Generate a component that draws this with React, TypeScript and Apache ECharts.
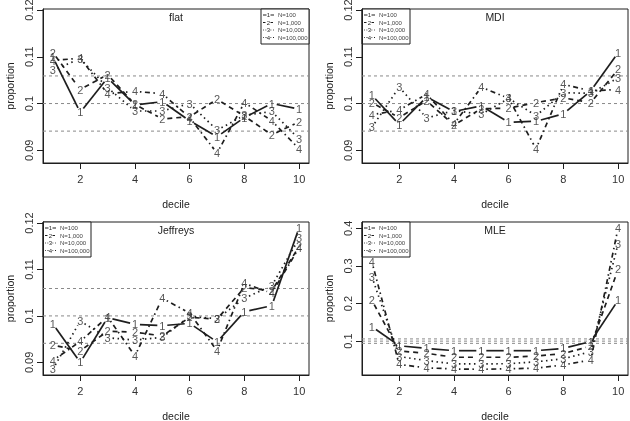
import React, { useEffect, useRef } from "react";
import * as echarts from "echarts";

// ---- data -------------------------------------------------------------
const deciles = [1, 2, 3, 4, 5, 6, 7, 8, 9, 10];
const xTickValues = [2, 4, 6, 8, 10];
const sampleSizeLabels = ["N=100", "N=1,000", "N=10,000", "N=100,000"];
const propTicks = [0.09, 0.1, 0.11, 0.12];
const mleTicks = [0.1, 0.2, 0.3, 0.4];

// expected proportion per decile and its band
const bandValues = [0.0941, 0.1, 0.1059];

const flatN100 = [0.1099, 0.0981, 0.1055, 0.0997, 0.1004, 0.0963, 0.0929, 0.097, 0.1, 0.0988];
const flatN1000 = [0.1109, 0.103, 0.1062, 0.0998, 0.0967, 0.0972, 0.1009, 0.0973, 0.0933, 0.0961];
const flatN10000 = [0.1071, 0.1096, 0.1034, 0.0984, 0.0984, 0.1, 0.0943, 0.0975, 0.0983, 0.0924];
const flatN100000 = [0.1092, 0.1097, 0.1021, 0.1026, 0.1021, 0.097, 0.0894, 0.1002, 0.0963, 0.0903];

const mdiN100 = [0.1018, 0.0955, 0.1014, 0.0983, 0.0995, 0.096, 0.0962, 0.0978, 0.1027, 0.1109];
const mdiN1000 = [0.1002, 0.097, 0.1006, 0.0954, 0.0989, 0.099, 0.1002, 0.1012, 0.1002, 0.1073];
const mdiN10000 = [0.0949, 0.1035, 0.0969, 0.0985, 0.0977, 0.1011, 0.0974, 0.1023, 0.1022, 0.1055];
const mdiN100000 = [0.0976, 0.0986, 0.102, 0.0956, 0.1035, 0.1011, 0.0903, 0.1041, 0.1027, 0.103];

const jeffreysN100 = [0.0983, 0.09, 0.0996, 0.0982, 0.0979, 0.0984, 0.0944, 0.1009, 0.1022, 0.119];
const jeffreysN1000 = [0.0937, 0.0925, 0.0967, 0.0965, 0.0957, 0.0997, 0.0993, 0.1061, 0.1054, 0.115];
const jeffreysN10000 = [0.0885, 0.0989, 0.0953, 0.0948, 0.0954, 0.0999, 0.0994, 0.1038, 0.1065, 0.1167];
const jeffreysN100000 = [0.0904, 0.0945, 0.0998, 0.0914, 0.1038, 0.1006, 0.0925, 0.107, 0.1049, 0.1147];

const mleN100 = [0.1386, 0.0876, 0.0807, 0.0746, 0.0746, 0.0746, 0.0746, 0.0807, 0.099, 0.2088];
const mleN1000 = [0.2088, 0.074, 0.0676, 0.0571, 0.0571, 0.0571, 0.0605, 0.067, 0.0868, 0.2912];
const mleN10000 = [0.2719, 0.059, 0.0482, 0.0395, 0.0395, 0.04, 0.045, 0.053, 0.0719, 0.3596];
const mleN100000 = [0.3114, 0.038, 0.0289, 0.026, 0.025, 0.0265, 0.028, 0.0368, 0.05, 0.4018];

// ---- styling ----------------------------------------------------------
const INK = "#1e1e1e";
const DIGIT = "#2e2e2e";
const FONT = "'Liberation Sans', Arial, Helvetica, sans-serif";
const DASHES: (number[] | null)[] = [null, [5, 4], [1.5, 3.5], [1.5, 3.5, 5, 3.5]];
const GAP = 5;

type Box = { left: number; top: number; width: number; height: number };

const panels = [
  { title: "flat", series: [flatN100, flatN1000, flatN10000, flatN100000], ticks: propTicks, box: { left: 43, top: 9, width: 266, height: 154 }, legendRight: true },
  { title: "MDI", series: [mdiN100, mdiN1000, mdiN10000, mdiN100000], ticks: propTicks, box: { left: 362, top: 9, width: 266, height: 154 }, legendRight: false },
  { title: "Jeffreys", series: [jeffreysN100, jeffreysN1000, jeffreysN10000, jeffreysN100000], ticks: propTicks, box: { left: 43, top: 222, width: 266, height: 153 }, legendRight: false },
  { title: "MLE", series: [mleN100, mleN1000, mleN10000, mleN100000], ticks: mleTicks, box: { left: 362, top: 222, width: 266, height: 153 }, legendRight: false },
];

// R-style axis range: data range widened by 4% on each side
function paddedRange(values: number[]): [number, number] {
  const lo = Math.min(...values);
  const hi = Math.max(...values);
  const pad = (hi - lo) * 0.04;
  return [lo - pad, hi + pad];
}

const sharedRange = paddedRange(panels.slice(0, 3).flatMap((p) => p.series.flat()));
const mleRange = paddedRange(panels[3].series.flat());
const xRange = paddedRange(deciles);

function legendGraphic(box: Box, right: boolean) {
  const w = 48;
  const h = 35;
  const x0 = right ? box.left + box.width - w : box.left;
  const y0 = box.top;
  const children: any[] = [
    { type: "rect", shape: { x: x0, y: y0, width: w, height: h }, style: { fill: "#fff", stroke: INK, lineWidth: 1 } },
  ];
  sampleSizeLabels.forEach((label, i) => {
    const cy = y0 + 6 + i * 7.5;
    const dash = DASHES[i];
    const small = dash ? dash.map((d) => d * 0.5) : null;
    children.push(
      { type: "line", shape: { x1: x0 + 2, y1: cy, x2: x0 + 5.5, y2: cy }, style: { stroke: INK, lineWidth: 1, lineDash: small } },
      { type: "line", shape: { x1: x0 + 9.5, y1: cy, x2: x0 + 13, y2: cy }, style: { stroke: INK, lineWidth: 1, lineDash: small } },
      { type: "text", x: x0 + 7.5, y: cy, style: { text: String(i + 1), fontSize: 6, fontFamily: FONT, fill: INK, align: "center", verticalAlign: "middle" } },
      { type: "text", x: x0 + 17, y: cy, style: { text: label, fontSize: 6, fontFamily: FONT, fill: "#444", align: "left", verticalAlign: "middle" } }
    );
  });
  return { type: "group", children };
}

function buildOption() {
  const grid: any[] = [];
  const xAxis: any[] = [];
  const yAxis: any[] = [];
  const series: any[] = [];
  const graphic: any[] = [];

  panels.forEach((p, gi) => {
    const b = p.box;
    grid.push({ ...b, show: true, borderColor: INK, borderWidth: 1, backgroundColor: "transparent", outerBoundsMode: "none", containLabel: false });
    xAxis.push({
      type: "value",
      gridIndex: gi,
      min: xRange[0],
      max: xRange[1],
      splitLine: { show: false },
      axisLine: { show: true, onZero: false, lineStyle: { color: INK, width: 1 } },
      axisTick: { show: true, inside: false, length: 6, customValues: xTickValues, lineStyle: { color: INK } },
      axisLabel: { show: true, customValues: xTickValues, margin: 10, fontSize: 11, fontFamily: FONT, color: "#333", formatter: (v: number) => String(v) },
    });
    const range = gi === 3 ? mleRange : sharedRange;
    yAxis.push({
      type: "value",
      gridIndex: gi,
      min: range[0],
      max: range[1],
      splitLine: { show: false },
      axisLine: { show: true, onZero: false, lineStyle: { color: INK, width: 1 } },
      axisTick: { show: true, inside: false, length: 6, customValues: p.ticks, lineStyle: { color: INK } },
      axisLabel: { show: true, customValues: p.ticks, rotate: 90, margin: 9, fontSize: 11, fontFamily: FONT, color: "#333", formatter: (v: number) => String(v) },
    });

    // reference band lines
    series.push({
      type: "custom",
      xAxisIndex: gi,
      yAxisIndex: gi,
      silent: true,
      z: 1,
      data: bandValues.map((v) => [xRange[0], v]),
      encode: { x: 0, y: 1 },
      renderItem: (params: any, api: any) => {
        const cs = params.coordSys;
        const y = api.coord([xRange[0], api.value(1)])[1];
        return {
          type: "line",
          shape: { x1: cs.x, y1: y, x2: cs.x + cs.width, y2: y },
          style: { stroke: "#8a8a8a", fill: null, lineWidth: 1, lineDash: [3, 3] },
        };
      },
    });

    p.series.forEach((values, si) => {
      const segments = deciles.slice(0, -1).map((d, i) => [d, values[i], deciles[i + 1], values[i + 1]]);
      const dash = DASHES[si];
      series.push({
        type: "custom",
        xAxisIndex: gi,
        yAxisIndex: gi,
        silent: true,
        z: 2 + si,
        data: segments,
        encode: { x: [0, 2], y: [1, 3] },
        renderItem: (_params: any, api: any) => {
          const a = api.coord([api.value(0), api.value(1)]);
          const c = api.coord([api.value(2), api.value(3)]);
          const dx = c[0] - a[0];
          const dy = c[1] - a[1];
          const len = Math.hypot(dx, dy);
          if (len <= 2 * GAP) return { type: "group", children: [] };
          const ux = dx / len;
          const uy = dy / len;
          return {
            type: "line",
            shape: { x1: a[0] + ux * GAP, y1: a[1] + uy * GAP, x2: c[0] - ux * GAP, y2: c[1] - uy * GAP },
            style: { stroke: INK, fill: null, lineWidth: 1.7, lineDash: dash },
          };
        },
      });
      // the sample-size digit marking each point
      series.push({
        type: "scatter",
        xAxisIndex: gi,
        yAxisIndex: gi,
        silent: true,
        z: 2 + si,
        symbol: "circle",
        symbolSize: 1,
        itemStyle: { color: "rgba(0,0,0,0)" },
        data: deciles.map((d, i) => [d, values[i]]),
        label: {
          show: true,
          position: "inside",
          formatter: String(si + 1),
          fontSize: 11,
          fontFamily: FONT,
          color: DIGIT,
          textBorderWidth: 0,
        },
        labelLayout: { hideOverlap: false },
      });
    });

    const cx = b.left + b.width / 2;
    const cy = b.top + b.height / 2;
    graphic.push(
      { type: "text", x: cx, y: b.top + 8, style: { text: p.title, fontSize: 10.5, fontFamily: FONT, fill: "#222", align: "center", verticalAlign: "middle" } },
      { type: "text", x: cx, y: b.top + b.height + 41, style: { text: "decile", fontSize: 10.5, fontFamily: FONT, fill: "#222", align: "center", verticalAlign: "middle" } },
      { type: "text", x: b.left - 33, y: cy, rotation: Math.PI / 2, style: { text: "proportion", fontSize: 10.5, fontFamily: FONT, fill: "#222", align: "center", verticalAlign: "middle" } },
      legendGraphic(b, p.legendRight)
    );
  });

  return {
    animation: false,
    backgroundColor: "#fff",
    color: [DIGIT],
    grid,
    xAxis,
    yAxis,
    series,
    graphic: { elements: graphic },
  };
}

export default function App() {
  const ref = useRef<HTMLDivElement>(null);
  useEffect(() => {
    if (!ref.current) return;
    const chart = echarts.init(ref.current, undefined, { renderer: "svg" });
    chart.setOption(buildOption() as any);
    return () => chart.dispose();
  }, []);
  // a monochrome figure: grayscale keeps glyph edges neutral
  return (
    <div
      ref={ref}
      style={{ position: "fixed", left: 0, top: 0, width: 630, height: 421, filter: "grayscale(1)" }}
    />
  );
}
